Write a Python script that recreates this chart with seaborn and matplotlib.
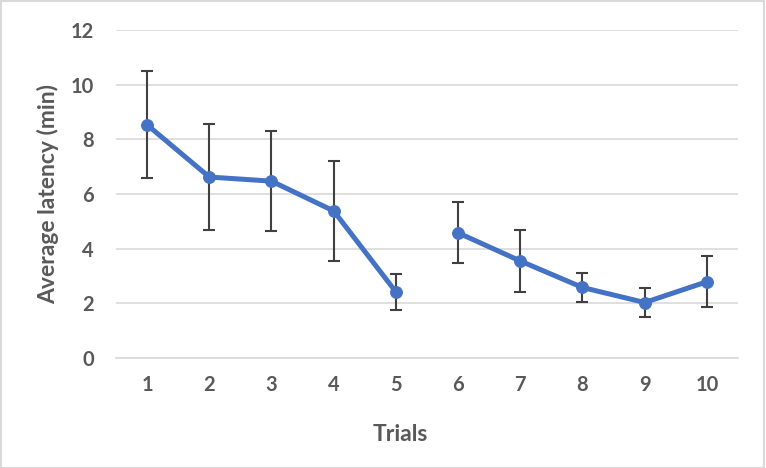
import numpy as np
import pandas as pd
import matplotlib
matplotlib.use("Agg")
import matplotlib.pyplot as plt
import seaborn as sns

# values
trials = [1, 2, 3, 4, 5, 6, 7, 8, 9, 10]
latency = [8.53, 6.62, 6.47, 5.38, 2.42, 4.58, 3.55, 2.58, 2.03, 2.79]
errors = [1.96, 1.94, 1.82, 1.84, 0.67, 1.12, 1.14, 0.52, 0.53, 0.94]
segment = ["a", "a", "a", "a", "a", "b", "b", "b", "b", "b"]
y_ticks = [0, 2, 4, 6, 8, 10, 12]

df = pd.DataFrame({"trial": trials, "latency": latency,
                   "err": errors, "segment": segment})

sns.set_style("white")
plt.rcParams["font.family"] = ["Lato", "DejaVu Sans"]

line_col = "#4472C4"
text_col = "#595959"
grid_col = "#D9D9D9"

fig = plt.figure(figsize=(7.66, 4.68), dpi=100)
ax = fig.add_axes([0.1514, 0.235, 0.812, 0.701])

# error bars first so the line sits on top
ax.errorbar(df["trial"], df["latency"], yerr=df["err"], fmt="none",
            ecolor="#404040", elinewidth=1.5, capsize=4.2, capthick=1.5, zorder=2)

sns.lineplot(data=df, x="trial", y="latency", units="segment", estimator=None,
             color=line_col, linewidth=3.6, marker="o", markersize=8.5,
             markeredgecolor=line_col, ax=ax, zorder=3)

ax.set_xlim(0.5, 10.5)
ax.set_ylim(0, 12)
ax.set_xticks(trials)
ax.set_xticklabels([str(t) for t in trials])
ax.set_yticks(y_ticks)
ax.yaxis.grid(True, color=grid_col, linewidth=1.2)
ax.set_axisbelow(True)
for side in ["top", "right", "left"]:
    ax.spines[side].set_visible(False)
ax.spines["bottom"].set_color(grid_col)
ax.spines["bottom"].set_linewidth(1.2)
ax.tick_params(axis="both", length=0, labelsize=14.5, labelcolor=text_col)
for lab in ax.get_xticklabels() + ax.get_yticklabels():
    lab.set_fontweight("bold")
ax.tick_params(axis="x", pad=12)
ax.tick_params(axis="y", pad=16)

ax.set_xlabel("Trials", fontsize=16.5, fontweight="bold", color=text_col)
ax.xaxis.set_label_coords(0.457, -0.20)
ax.set_ylabel("Average latency (min)", fontsize=16.5, fontweight="bold", color=text_col)
ax.yaxis.set_label_coords(-0.092, 0.5)

# light grey frame around the whole picture
fig.patches.append(plt.Rectangle((0.001, 0.001), 0.997, 0.997, transform=fig.transFigure,
                                 fill=False, edgecolor="#D9D9D9", linewidth=1.5))

fig.savefig("out.png", dpi=100)
